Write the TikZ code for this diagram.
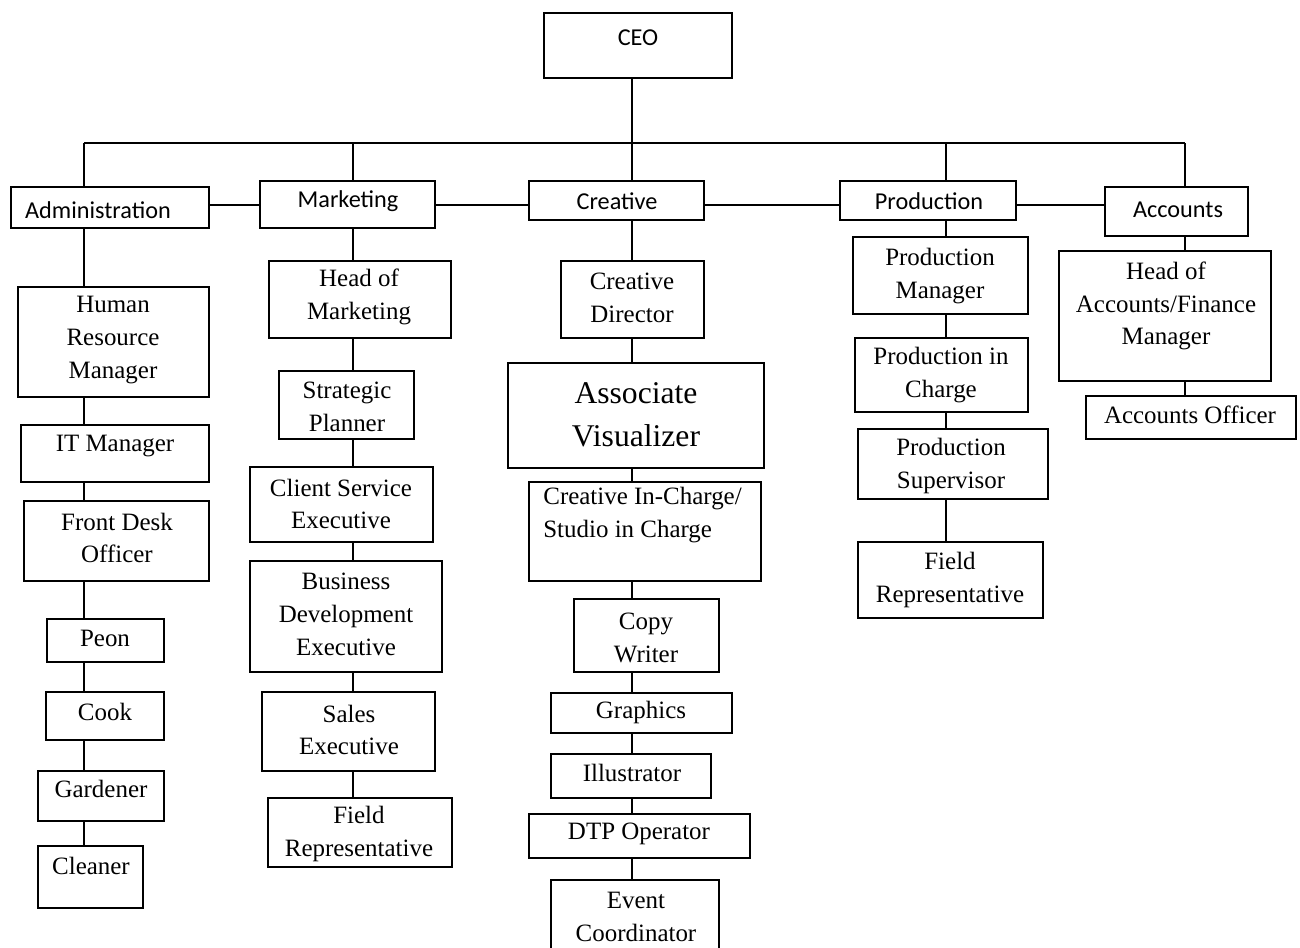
\documentclass[tikz,border=0pt]{standalone}
\usepackage{fontspec}
\setmainfont{Liberation Serif}
\newfontfamily\sansfam{Carlito}
\tikzset{
  bx/.style={draw, line width=0.8pt, inner sep=0pt, outer sep=0pt, anchor=north west},
  tx/.style={inner sep=0pt, align=center, font=\fontsize{14.2}{18.7}\selectfont},
  dept/.style={inner sep=0pt, align=center, font=\sansfam\fontsize{13.8}{16}\selectfont},
  big/.style={inner sep=0pt, align=center, font=\fontsize{18}{24.4}\selectfont},
  ln/.style={line width=0.8pt}
}
\newcommand\bx[5]{\node[bx, minimum width={(#4-#2)*0.02cm}, minimum height={(#5-#3)*0.02cm}] (#1) at (#2,#3) {};}
\begin{document}
\begin{tikzpicture}[x=0.02cm, y=-0.02cm]
\useasboundingbox (0,0) rectangle (1300,947);
\begin{scope}
\clip (0,0) rectangle (1300,947);
% boxes
\bx{ceo}{544}{13}{732}{78}
\bx{adm}{11}{187}{209}{228}
\bx{mkt}{260}{181}{435}{228}
\bx{cre}{529}{181}{704}{220}
\bx{pro}{840}{181}{1016}{220}
\bx{acc}{1105}{187}{1248}{236}
% administration
\bx{hrm}{18}{287}{209}{397}
\bx{itm}{21}{425}{209}{482}
\bx{fdo}{24}{501}{209}{581}
\bx{peon}{47}{619}{164}{662}
\bx{cook}{46}{692}{164}{740}
\bx{gard}{38}{771}{164}{821}
\bx{clean}{38}{846}{143}{908}
% marketing
\bx{hom}{269}{261}{451}{338}
\bx{sp}{279}{371}{414}{439}
\bx{cse}{250}{467}{433}{542}
\bx{bde}{250}{561}{442}{672}
\bx{se}{262}{692}{435}{771}
\bx{frm}{268}{798}{452}{867}
% creative
\bx{cd}{561}{261}{704}{338}
\bx{av}{508}{363}{764}{468}
\bx{cic}{529}{482}{761}{581}
\bx{cw}{574}{599}{719}{672}
\bx{gr}{551}{693}{732}{733}
\bx{il}{551}{754}{711}{798}
\bx{dtp}{529}{814}{750}{858}
\bx{ev}{551}{880}{719}{960}
% production
\bx{pm}{853}{237}{1028}{314}
\bx{pic}{855}{338}{1028}{412}
\bx{ps}{858}{429}{1048}{499}
\bx{frp}{858}{542}{1043}{618}
% accounts
\bx{hoa}{1059}{251}{1271}{381}
\bx{ao}{1086}{396}{1296}{439}
% texts
\node[dept] (t-ceo) at (638,38) {CEO};
\node[dept] (t-adm) at (98,210) {Administration};
\node[dept] (t-mkt) at (348,201) {Marketing};
\node[dept] (t-cre) at (617,201) {Creative};
\node[dept] (t-pro) at (929,201) {Production};
\node[dept] (t-acc) at (1178,210) {Accounts};
\node[tx] (t-hrm) at (113,340) {Human\\Resource\\Manager};
\node[tx] (t-itm) at (115,446) {IT Manager};
\node[tx] (t-fdo) at (117,538) {Front Desk\\Officer};
\node[tx] (t-peon) at (105,638) {Peon};
\node[tx] (t-cook) at (105,712) {Cook};
\node[tx] (t-gard) at (101,789) {Gardener};
\node[tx] (t-clean) at (91,866) {Cleaner};
\node[tx] (t-hom) at (359,297) {Head of\\Marketing};
\node[tx] (t-sp) at (347,407) {Strategic\\Planner};
\node[tx] (t-cse) at (341,504) {Client Service\\Executive};
\node[tx] (t-bde) at (346,614) {Business\\Development\\Executive};
\node[tx] (t-se) at (349,730) {Sales\\Executive};
\node[tx] (t-frm) at (359,834) {Field\\Representative};
\node[tx] (t-cd) at (632,298) {Creative\\Director};
\node[big] (t-av) at (636,415) {Associate\\Visualizer};
\node[tx, align=left, anchor=north west] (t-cic) at (543,487) {Creative In-Charge/\\Studio in Charge};
\node[tx] (t-cw) at (646,638) {Copy\\Writer};
\node[tx] (t-gr) at (641,712) {Graphics};
\node[tx] (t-il) at (632,773) {Illustrator};
\node[tx] (t-dtp) at (639,834) {DTP Operator};
\node[tx] (t-ev) at (636,917) {Event\\Coordinator};
\node[tx] (t-pm) at (940,276) {Production\\Manager};
\node[tx] (t-pic) at (941,375) {Production in\\Charge};
\node[tx] (t-ps) at (951,466) {Production\\Supervisor};
\node[tx] (t-frp) at (950,580) {Field\\Representative};
\node[tx] (t-hoa) at (1166,306) {Head of\\Accounts/Finance\\Manager};
\node[tx] (t-ao) at (1190,415) {Accounts Officer};
% column coordinates
\coordinate (cA) at (84,143);
\coordinate (cM) at (353,143);
\coordinate (cC) at (632,143);
\coordinate (cP) at (946,143);
\coordinate (cR) at (1185,143);
\coordinate (hy) at (0,205);
% bus
\draw[ln] (cA) -- (cR);
\draw[ln] (cA) -- (adm.north -| cA);
\draw[ln] (cM) -- (mkt.north -| cM);
\draw[ln] (ceo.south -| cC) -- (cre.north -| cC);
\draw[ln] (cP) -- (pro.north -| cP);
\draw[ln] (cR) -- (acc.north -| cR);
% horizontal links
\draw[ln] (adm.east |- hy) -- (mkt.west |- hy);
\draw[ln] (mkt.east |- hy) -- (cre.west |- hy);
\draw[ln] (cre.east |- hy) -- (pro.west |- hy);
\draw[ln] (pro.east |- hy) -- (acc.west |- hy);
% administration chain
\draw[ln] (adm.south -| cA) -- (hrm.north -| cA);
\draw[ln] (hrm.south -| cA) -- (itm.north -| cA);
\draw[ln] (itm.south -| cA) -- (fdo.north -| cA);
\draw[ln] (fdo.south -| cA) -- (peon.north -| cA);
\draw[ln] (peon.south -| cA) -- (cook.north -| cA);
\draw[ln] (cook.south -| cA) -- (gard.north -| cA);
\draw[ln] (gard.south -| cA) -- (clean.north -| cA);
% marketing chain
\draw[ln] (mkt.south -| cM) -- (hom.north -| cM);
\draw[ln] (hom.south -| cM) -- (sp.north -| cM);
\draw[ln] (sp.south -| cM) -- (cse.north -| cM);
\draw[ln] (cse.south -| cM) -- (bde.north -| cM);
\draw[ln] (bde.south -| cM) -- (se.north -| cM);
\draw[ln] (se.south -| cM) -- (frm.north -| cM);
% creative chain
\draw[ln] (cre.south -| cC) -- (cd.north -| cC);
\draw[ln] (cd.south -| cC) -- (av.north -| cC);
\draw[ln] (av.south -| cC) -- (cic.north -| cC);
\draw[ln] (cic.south -| cC) -- (cw.north -| cC);
\draw[ln] (cw.south -| cC) -- (gr.north -| cC);
\draw[ln] (gr.south -| cC) -- (il.north -| cC);
\draw[ln] (il.south -| cC) -- (dtp.north -| cC);
\draw[ln] (dtp.south -| cC) -- (ev.north -| cC);
% production chain
\draw[ln] (pro.south -| cP) -- (pm.north -| cP);
\draw[ln] (pm.south -| cP) -- (pic.north -| cP);
\draw[ln] (pic.south -| cP) -- (ps.north -| cP);
\draw[ln] (ps.south -| cP) -- (frp.north -| cP);
% accounts chain
\draw[ln] (acc.south -| cR) -- (hoa.north -| cR);
\draw[ln] (hoa.south -| cR) -- (ao.north -| cR);
\end{scope}
\end{tikzpicture}
\end{document}
